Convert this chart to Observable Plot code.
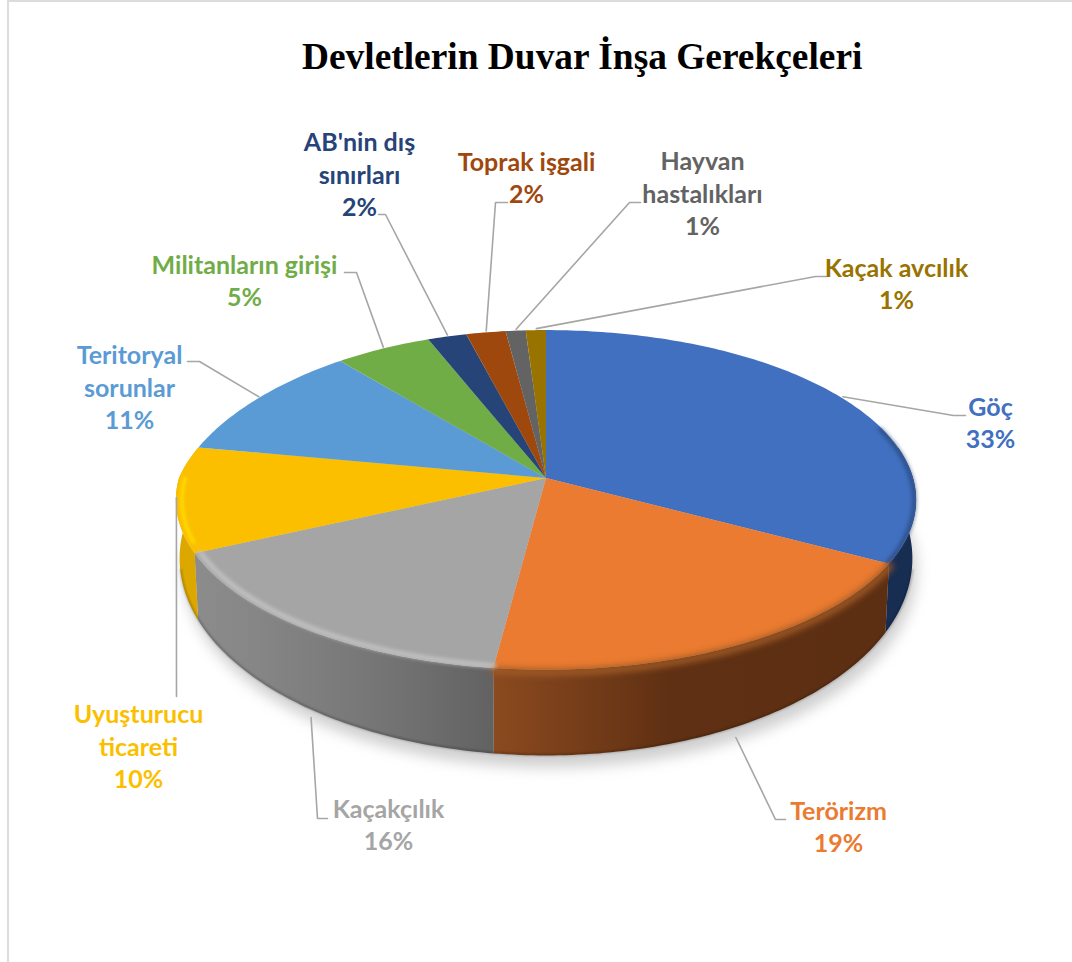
<!DOCTYPE html>
<html lang="tr">
<head>
<meta charset="utf-8">
<script src="https://cdn.jsdelivr.net/npm/d3@7"></script>
<script src="https://cdn.jsdelivr.net/npm/@observablehq/plot@0.6"></script>
<style>
  html, body { margin: 0; padding: 0; background: #fff; overflow: hidden; }
  #frame { position: absolute; left: 7px; top: 0; width: 1065px; height: 962px; box-sizing: border-box;
           border-left: 2px solid #dcdcdc; border-top: 2px solid #dcdcdc; }
  #title { position: absolute; left: 0; top: 0; width: 1072px; height: 92px; z-index: 2; text-align: center; }
  #title span { position: absolute; left: 302px; top: 34px; white-space: nowrap;
                font: bold 37.4px/46px "Liberation Serif", serif; color: #000; }
  #chart { position: absolute; left: 0; top: 92px; }
  #chart svg { display: block; }
</style>
</head>
<body>
<div id="frame"></div>
<div id="title"><span>Devletlerin Duvar İnşa Gerekçeleri</span></div>
<div id="chart"></div>
<script>
// ---- chart values ----
const categories = ["Göç", "Terörizm", "Kaçakçılık", "Uyuşturucu ticareti", "Teritoryal sorunlar",
  "Militanların girişi", "AB'nin dış sınırları", "Toprak işgali", "Hayvan hastalıkları", "Kaçak avcılık"];
const shares = [33, 19, 16, 10, 11, 5, 2, 2, 1, 1];
const labelLines = ["Göç", "Terörizm", "Kaçakçılık", "Uyuşturucu\nticareti", "Teritoryal\nsorunlar",
  "Militanların girişi", "AB'nin dış\nsınırları", "Toprak işgali", "Hayvan\nhastalıkları", "Kaçak avcılık"];
const colors = ["#4170c0", "#ea7b30", "#a5a5a5", "#fbbf00", "#5b9bd5", "#70ad47", "#264478", "#9e480e", "#636363", "#997300"];
const sideFills = ["#182d52", "url(#sideOrange)", "url(#sideGray)", "#dca800"];

// ---- layout (label placement, in chart units) ----
const labelCenters = [[990,421],[838,825],[388,823],[138,745],[129,386],[244,279],[359,173],[526,176],[702,192],[896,282]];
const leaderBends = [[953,415],[775,819],[317,818],[176,696],[199,361],[356,272],[385,214],[495,202],[629,202],[815,276]];
const leaderEnds  = [[965,415],[785,819],[327,818],[176,696],[187,361],[344,272],[378,214],[507,202],[640,202],[826,276]];
const W = 1072, H = 962, titleH = 92;

// ---- perspective of the pie ----
const CX = 546, CY = 478, R = 367, B = 167, A = 0.129;
const frontFrom = 0.22, frontTo = 0.78;
function rim(f) {
  const a = 2 * Math.PI * f, u = Math.sin(a), v = -Math.cos(a), w = 1 - A * v;
  const trim = 1 - 0.067 * Math.max(0, -u) * Math.max(0, -v);
  return [CX + R * u / w * trim, CY + B * v / w];
}
function floorPt(f) {
  const [x, y] = rim(f);
  return [CX + (x - CX) * 0.99, y + 55 + 0.16 * (y - CY)];
}
function arc(s, e) {
  const n = Math.max(2, Math.ceil((e - s) * 400));
  return d3.range(n + 1).map(i => s + (e - s) * i / n);
}

// ---- slices built from the values ----
const total = d3.sum(shares);
const cum = d3.cumsum(shares).map(c => c / total);
const slices = categories.map((name, i) => ({
  name, share: shares[i], color: colors[i], start: i ? cum[i - 1] : 0, end: cum[i],
  text: `${labelLines[i]}\n${shares[i]}%`, center: labelCenters[i]
}));
const faces = slices.flatMap(s => arc(s.start, s.end).map(f => {
  const [x, y] = rim(f);
  return { name: s.name, color: s.color, x, y };
}));
const walls = slices.map((s, i) => ({ s, i }))
  .filter(({ s }) => s.end > frontFrom && s.start < frontTo)
  .map(({ s, i }) => ({
    fill: sideFills[i],
    pts: arc(Math.max(s.start, frontFrom), Math.min(s.end, frontTo)).map(f => {
      const [x1, y1] = rim(f), [x2, y2] = floorPt(f);
      return { x1, y1, x2, y2 };
    })
  }));
const shadow = arc(0, 1).map(f => { const [x, y] = floorPt(f); return { x: x + 4, y: y + 12 }; });
const floorLine = arc(frontFrom + 0.06, frontTo - 0.06).map(f => { const [x, y] = floorPt(f); return { x, y: y - 1 }; });
const rimLine = (s, e, k = 1, dy = 0) => arc(s, e).map(f => {
  const [x, y] = rim(f);
  return { x: CX + (x - CX) * k, y: CY + (y - CY) * k + dy };
});

// leader lines start at the middle of each slice's rim
const leaders = slices.flatMap((s, i) => {
  const mid = (s.start + s.end) / 2;
  const front = mid > 0.3 && mid < 0.68;
  const [x, y] = front ? floorPt(mid) : rim(mid);
  const start = [x + (front ? 3 : 0), y + (front ? 9 : -2)];
  return [start, leaderBends[i], leaderEnds[i]].map(p => ({ name: s.name, x: p[0], y: p[1] }));
});

const defs = () => {
  const d = d3.create("svg:defs");
  const grad = (id, x1, x2, stops) => {
    const g = d.append("linearGradient").attr("id", id).attr("gradientUnits", "userSpaceOnUse")
      .attr("x1", x1).attr("x2", x2).attr("y1", 0).attr("y2", 0);
    stops.forEach(([o, c]) => g.append("stop").attr("offset", o).attr("stop-color", c));
  };
  grad("sideOrange", 493, 889, [[0, "#8b4a1f"], [0.45, "#5f3013"], [1, "#5d2f12"]]);
  grad("sideGray", 196, 493, [[0, "#8c8c8c"], [0.2, "#868686"], [0.6, "#767676"], [1, "#626262"]]);
  return d.node();
};

const plot = Plot.plot({
  width: W, height: H - titleH,
  margin: 0,
  x: { domain: [0, W], range: [0, W], axis: null },
  y: { domain: [titleH, H], range: [0, H - titleH], axis: null },
  color: { type: "identity" },
  style: { background: "transparent" },
  marks: [
    defs,
    Plot.area(shadow, { x1: CX + 4, y1: CY + 60, x2: "x", y2: "y", fill: "#a0a0a0", fillOpacity: 0.5, imageFilter: "blur(7px)" }),
    walls.map(w => Plot.area(w.pts, { x1: "x1", y1: "y1", x2: "x2", y2: "y2", fill: w.fill })),
    Plot.line(floorLine, { x: "x", y: "y", stroke: "#000", strokeOpacity: 0.25, strokeWidth: 2, imageFilter: "blur(1px)" }),
    Plot.area(faces, { x1: CX, y1: CY, x2: "x", y2: "y", z: "name", fill: "color" }),
    // soft bevel along the rim
    Plot.line(rimLine(0.2, 0.33, 0.994), { x: "x", y: "y", stroke: "#1f3761", strokeWidth: 3, strokeOpacity: 0.85, imageFilter: "blur(2px)" }),
    Plot.line(rimLine(0.33, 0.52, 1, 2), { x: "x", y: "y", stroke: "#a05a26", strokeWidth: 7, imageFilter: "blur(3px)" }),
    Plot.line(rimLine(0.52, 0.68, 0.985), { x: "x", y: "y", stroke: "#c8c8c8", strokeWidth: 4, imageFilter: "blur(2px)" }),
    Plot.line(rimLine(0.69, 0.75, 0.985), { x: "x", y: "y", stroke: "#ffd800", strokeWidth: 4, imageFilter: "blur(1.5px)" }),
    Plot.line(leaders, { x: "x", y: "y", z: "name", stroke: "#a6a6a6", strokeWidth: 1.6, curve: "linear" }),
    Plot.text(slices, {
      x: d => d.center[0], y: d => d.center[1], text: "text", fill: "color",
      fontFamily: "Lato, sans-serif", fontWeight: "bold", fontSize: 25, lineHeight: 1.3, textAnchor: "middle"
    })
  ]
});
document.getElementById("chart").append(plot);
</script>
</body>
</html>
